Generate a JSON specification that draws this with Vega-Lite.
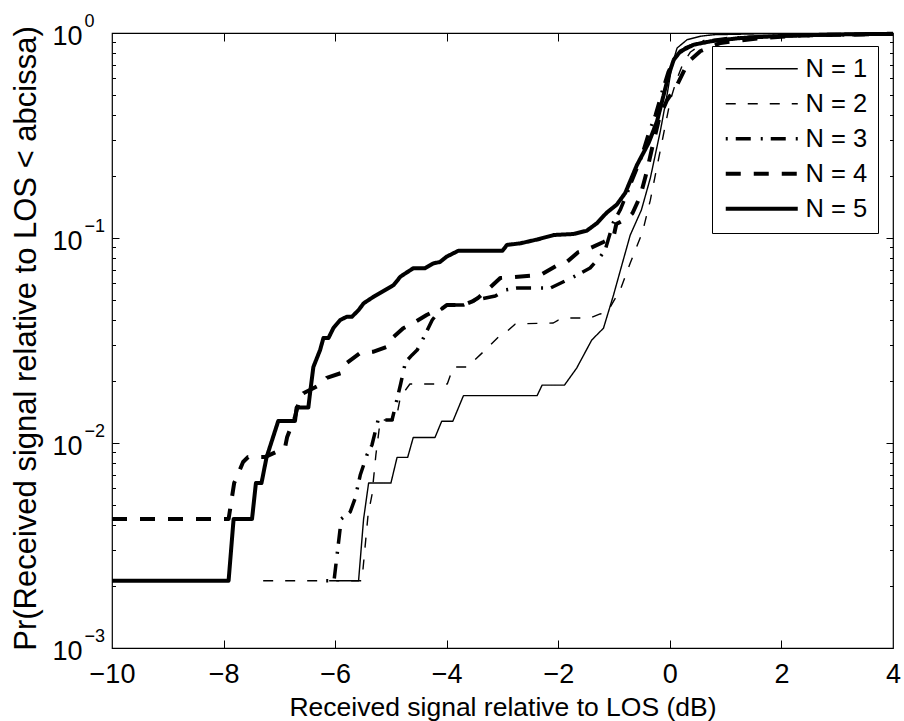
{
  "$schema": "https://vega.github.io/schema/vega-lite/v6.json",
  "width": 781,
  "height": 615,
  "autosize": {"type": "none"},
  "padding": {"left": 112, "top": 33, "right": 11, "bottom": 73},
  "background": "white",
  "config": {
    "font": "Liberation Sans",
    "view": {"stroke": "black", "strokeWidth": 1.2},
    "legend": {
      "orient": "none", "legendX": 600, "legendY": 13, "direction": "vertical",
      "strokeColor": "black", "fillColor": "white", "padding": 10, "rowPadding": 8,
      "symbolType": "M-4,0H4", "symbolSize": 324, "symbolOffset": 27, "symbolStrokeColor": "black",
      "labelFontSize": 25.5, "labelColor": "black", "labelOffset": 31, "labelFont": "Liberation Sans",
      "cornerRadius": 0, "symbolOpacity": 1
    }
  },
  "data": {"values": [
    {"N":"N = 1","x":-5.98,"p":0.00213},{"N":"N = 1","x":-5.58,"p":0.00213},{"N":"N = 1","x":-5.49,"p":0.00426},{"N":"N = 1","x":-5.40,"p":0.00638},{"N":"N = 1","x":-5.00,"p":0.00638},{"N":"N = 1","x":-4.89,"p":0.00851},{"N":"N = 1","x":-4.70,"p":0.00851},{"N":"N = 1","x":-4.60,"p":0.01064},{"N":"N = 1","x":-4.21,"p":0.01064},{"N":"N = 1","x":-4.09,"p":0.01277},{"N":"N = 1","x":-3.89,"p":0.01277},{"N":"N = 1","x":-3.70,"p":0.01702},{"N":"N = 1","x":-2.38,"p":0.01702},{"N":"N = 1","x":-2.29,"p":0.01915},{"N":"N = 1","x":-1.89,"p":0.01915},{"N":"N = 1","x":-1.67,"p":0.0232},{"N":"N = 1","x":-1.40,"p":0.0318},{"N":"N = 1","x":-1.19,"p":0.0363},{"N":"N = 1","x":-1.01,"p":0.0527},{"N":"N = 1","x":-0.86,"p":0.0739},{"N":"N = 1","x":-0.71,"p":0.1034},{"N":"N = 1","x":-0.51,"p":0.137},{"N":"N = 1","x":-0.35,"p":0.196},{"N":"N = 1","x":-0.17,"p":0.333},{"N":"N = 1","x":-0.05,"p":0.50},{"N":"N = 1","x":0.04,"p":0.70},{"N":"N = 1","x":0.13,"p":0.845},{"N":"N = 1","x":0.31,"p":0.928},{"N":"N = 1","x":0.55,"p":0.964},{"N":"N = 1","x":0.78,"p":0.981},{"N":"N = 1","x":1.62,"p":0.991},{"N":"N = 1","x":4.0,"p":0.995},
    {"N":"N = 2","x":-7.29,"p":0.00213},{"N":"N = 2","x":-5.52,"p":0.00213},{"N":"N = 2","x":-5.41,"p":0.00446},{"N":"N = 2","x":-5.34,"p":0.00558},{"N":"N = 2","x":-5.27,"p":0.00874},{"N":"N = 2","x":-5.19,"p":0.01295},{"N":"N = 2","x":-4.91,"p":0.01295},{"N":"N = 2","x":-4.83,"p":0.01677},{"N":"N = 2","x":-4.66,"p":0.0194},{"N":"N = 2","x":-3.99,"p":0.0194},{"N":"N = 2","x":-3.88,"p":0.0235},{"N":"N = 2","x":-3.63,"p":0.0235},{"N":"N = 2","x":-3.31,"p":0.0284},{"N":"N = 2","x":-3.04,"p":0.0336},{"N":"N = 2","x":-2.95,"p":0.0344},{"N":"N = 2","x":-2.77,"p":0.0381},{"N":"N = 2","x":-2.09,"p":0.0385},{"N":"N = 2","x":-2.00,"p":0.0398},{"N":"N = 2","x":-1.84,"p":0.0407},{"N":"N = 2","x":-1.43,"p":0.0407},{"N":"N = 2","x":-1.25,"p":0.0426},{"N":"N = 2","x":-1.12,"p":0.0436},{"N":"N = 2","x":-0.89,"p":0.0558},{"N":"N = 2","x":-0.71,"p":0.0755},{"N":"N = 2","x":-0.49,"p":0.107},{"N":"N = 2","x":-0.35,"p":0.153},{"N":"N = 2","x":-0.26,"p":0.203},{"N":"N = 2","x":-0.17,"p":0.269},{"N":"N = 2","x":-0.08,"p":0.356},{"N":"N = 2","x":0.01,"p":0.471},{"N":"N = 2","x":0.12,"p":0.590},{"N":"N = 2","x":0.24,"p":0.714},{"N":"N = 2","x":0.37,"p":0.808},{"N":"N = 2","x":0.55,"p":0.874},{"N":"N = 2","x":0.82,"p":0.924},{"N":"N = 2","x":1.35,"p":0.956},{"N":"N = 2","x":2.34,"p":0.978},{"N":"N = 2","x":4.0,"p":0.99},
    {"N":"N = 3","x":-6.16,"p":0.00213},{"N":"N = 3","x":-6.02,"p":0.00213},{"N":"N = 3","x":-5.89,"p":0.00426},{"N":"N = 3","x":-5.73,"p":0.00461},{"N":"N = 3","x":-5.64,"p":0.00539},{"N":"N = 3","x":-5.55,"p":0.00698},{"N":"N = 3","x":-5.43,"p":0.00874},{"N":"N = 3","x":-5.34,"p":0.00978},{"N":"N = 3","x":-5.23,"p":0.01295},{"N":"N = 3","x":-4.98,"p":0.01295},{"N":"N = 3","x":-4.83,"p":0.01918},{"N":"N = 3","x":-4.74,"p":0.0248},{"N":"N = 3","x":-4.62,"p":0.0269},{"N":"N = 3","x":-4.53,"p":0.0284},{"N":"N = 3","x":-4.39,"p":0.0336},{"N":"N = 3","x":-4.26,"p":0.0398},{"N":"N = 3","x":-4.12,"p":0.0445},{"N":"N = 3","x":-3.99,"p":0.0471},{"N":"N = 3","x":-3.70,"p":0.0471},{"N":"N = 3","x":-3.49,"p":0.0498},{"N":"N = 3","x":-3.13,"p":0.0521},{"N":"N = 3","x":-2.95,"p":0.0558},{"N":"N = 3","x":-2.74,"p":0.0570},{"N":"N = 3","x":-2.14,"p":0.0570},{"N":"N = 3","x":-1.84,"p":0.0624},{"N":"N = 3","x":-1.66,"p":0.0660},{"N":"N = 3","x":-1.43,"p":0.0714},{"N":"N = 3","x":-1.25,"p":0.0808},{"N":"N = 3","x":-1.16,"p":0.0874},{"N":"N = 3","x":-1.01,"p":0.1197},{"N":"N = 3","x":-0.89,"p":0.137},{"N":"N = 3","x":-0.71,"p":0.181},{"N":"N = 3","x":-0.53,"p":0.240},{"N":"N = 3","x":-0.39,"p":0.318},{"N":"N = 3","x":-0.26,"p":0.398},{"N":"N = 3","x":-0.14,"p":0.516},{"N":"N = 3","x":-0.03,"p":0.645},{"N":"N = 3","x":0.10,"p":0.764},{"N":"N = 3","x":0.28,"p":0.845},{"N":"N = 3","x":0.55,"p":0.904},{"N":"N = 3","x":1.09,"p":0.945},{"N":"N = 3","x":1.98,"p":0.967},{"N":"N = 3","x":4.0,"p":0.99},
    {"N":"N = 4","x":-10,"p":0.00426},{"N":"N = 4","x":-7.91,"p":0.00426},{"N":"N = 4","x":-7.81,"p":0.00638},{"N":"N = 4","x":-7.65,"p":0.00808},{"N":"N = 4","x":-7.56,"p":0.00854},{"N":"N = 4","x":-7.26,"p":0.00854},{"N":"N = 4","x":-6.90,"p":0.00945},{"N":"N = 4","x":-6.86,"p":0.0107},{"N":"N = 4","x":-6.72,"p":0.0134},{"N":"N = 4","x":-6.63,"p":0.0168},{"N":"N = 4","x":-6.57,"p":0.0175},{"N":"N = 4","x":-6.27,"p":0.0192},{"N":"N = 4","x":-6.15,"p":0.0208},{"N":"N = 4","x":-5.88,"p":0.0220},{"N":"N = 4","x":-5.79,"p":0.0246},{"N":"N = 4","x":-5.55,"p":0.0275},{"N":"N = 4","x":-5.31,"p":0.0279},{"N":"N = 4","x":-5.07,"p":0.0295},{"N":"N = 4","x":-4.95,"p":0.0330},{"N":"N = 4","x":-4.78,"p":0.0363},{"N":"N = 4","x":-4.60,"p":0.0384},{"N":"N = 4","x":-4.36,"p":0.0421},{"N":"N = 4","x":-4.24,"p":0.0437},{"N":"N = 4","x":-4.12,"p":0.0445},{"N":"N = 4","x":-4.00,"p":0.0471},{"N":"N = 4","x":-3.70,"p":0.0471},{"N":"N = 4","x":-3.55,"p":0.0489},{"N":"N = 4","x":-3.44,"p":0.0510},{"N":"N = 4","x":-3.27,"p":0.0558},{"N":"N = 4","x":-3.04,"p":0.0638},{"N":"N = 4","x":-2.32,"p":0.0660},{"N":"N = 4","x":-2.04,"p":0.0730},{"N":"N = 4","x":-1.87,"p":0.0755},{"N":"N = 4","x":-1.64,"p":0.0854},{"N":"N = 4","x":-1.46,"p":0.0884},{"N":"N = 4","x":-1.19,"p":0.0956},{"N":"N = 4","x":-1.01,"p":0.1011},{"N":"N = 4","x":-0.96,"p":0.117},{"N":"N = 4","x":-0.76,"p":0.125},{"N":"N = 4","x":-0.67,"p":0.132},{"N":"N = 4","x":-0.53,"p":0.160},{"N":"N = 4","x":-0.42,"p":0.2075},{"N":"N = 4","x":-0.31,"p":0.281},{"N":"N = 4","x":-0.19,"p":0.385},{"N":"N = 4","x":-0.05,"p":0.471},{"N":"N = 4","x":0.12,"p":0.551},{"N":"N = 4","x":0.33,"p":0.722},{"N":"N = 4","x":0.55,"p":0.817},{"N":"N = 4","x":0.91,"p":0.894},{"N":"N = 4","x":1.62,"p":0.945},{"N":"N = 4","x":2.34,"p":0.972},{"N":"N = 4","x":4.0,"p":0.99},
    {"N":"N = 5","x":-10,"p":0.00213},{"N":"N = 5","x":-7.91,"p":0.00213},{"N":"N = 5","x":-7.82,"p":0.00426},{"N":"N = 5","x":-7.49,"p":0.00426},{"N":"N = 5","x":-7.42,"p":0.00638},{"N":"N = 5","x":-7.32,"p":0.00638},{"N":"N = 5","x":-7.23,"p":0.0085},{"N":"N = 5","x":-7.02,"p":0.0128},{"N":"N = 5","x":-6.72,"p":0.0128},{"N":"N = 5","x":-6.69,"p":0.0149},{"N":"N = 5","x":-6.48,"p":0.0149},{"N":"N = 5","x":-6.45,"p":0.0175},{"N":"N = 5","x":-6.39,"p":0.0235},{"N":"N = 5","x":-6.27,"p":0.0284},{"N":"N = 5","x":-6.21,"p":0.0325},{"N":"N = 5","x":-6.12,"p":0.0325},{"N":"N = 5","x":-6.03,"p":0.0364},{"N":"N = 5","x":-5.91,"p":0.0398},{"N":"N = 5","x":-5.79,"p":0.0413},{"N":"N = 5","x":-5.70,"p":0.0413},{"N":"N = 5","x":-5.58,"p":0.0445},{"N":"N = 5","x":-5.49,"p":0.0480},{"N":"N = 5","x":-5.31,"p":0.0517},{"N":"N = 5","x":-4.95,"p":0.0590},{"N":"N = 5","x":-4.83,"p":0.0648},{"N":"N = 5","x":-4.60,"p":0.0712},{"N":"N = 5","x":-4.39,"p":0.0712},{"N":"N = 5","x":-4.24,"p":0.0752},{"N":"N = 5","x":-4.12,"p":0.0764},{"N":"N = 5","x":-4.00,"p":0.0811},{"N":"N = 5","x":-3.79,"p":0.0867},{"N":"N = 5","x":-3.00,"p":0.0867},{"N":"N = 5","x":-2.92,"p":0.0925},{"N":"N = 5","x":-2.68,"p":0.0942},{"N":"N = 5","x":-2.38,"p":0.0983},{"N":"N = 5","x":-2.08,"p":0.1034},{"N":"N = 5","x":-1.73,"p":0.1046},{"N":"N = 5","x":-1.49,"p":0.1085},{"N":"N = 5","x":-1.31,"p":0.1179},{"N":"N = 5","x":-1.13,"p":0.1331},{"N":"N = 5","x":-0.95,"p":0.1457},{"N":"N = 5","x":-0.80,"p":0.1658},{"N":"N = 5","x":-0.59,"p":0.227},{"N":"N = 5","x":-0.38,"p":0.291},{"N":"N = 5","x":-0.23,"p":0.371},{"N":"N = 5","x":-0.11,"p":0.500},{"N":"N = 5","x":-0.02,"p":0.626},{"N":"N = 5","x":0.07,"p":0.741},{"N":"N = 5","x":0.19,"p":0.814},{"N":"N = 5","x":0.43,"p":0.877},{"N":"N = 5","x":0.73,"p":0.911},{"N":"N = 5","x":1.27,"p":0.945},{"N":"N = 5","x":1.98,"p":0.967},{"N":"N = 5","x":2.88,"p":0.983},{"N":"N = 5","x":4.0,"p":0.991}
  ]},
  "resolve": {"axis": {"x": "independent", "y": "independent"}},
  "layer": [
    {
      "mark": {"type": "line", "color": "black", "strokeCap": "butt", "strokeJoin": "round"},
      "encoding": {
        "x": {"field": "x", "type": "quantitative", "scale": {"domain": [-10, 4], "nice": false, "zero": false},
          "axis": {"orient": "bottom", "values": [-10, -8, -6, -4, -2, 0, 2, 4], "format": "d", "ticks": false, "domain": false, "grid": false,
            "labelFontSize": 27, "labelColor": "black", "labelPadding": 13, "labelFlush": false, "labelOverlap": false,
            "title": "Received signal relative to LOS (dB)", "titleFontSize": 26.5, "titleFontWeight": "normal", "titleColor": "black",
            "titleY": 67, "titleBaseline": "alphabetic"}},
        "y": {"field": "p", "type": "quantitative", "scale": {"type": "log", "domain": [0.001, 1], "nice": false},
          "axis": {"orient": "left", "values": [0.001, 0.01, 0.1, 1], "labelExpr": "'10'", "ticks": false, "domain": false, "grid": false,
            "labelFontSize": 27, "labelColor": "black", "labelPadding": 30, "labelAlign": "right", "labelBaseline": "middle", "labelOffset": 3,
            "labelOverlap": false, "labelFlush": false,
            "title": "Pr(Received signal relative to LOS < abcissa)", "titleFontSize": 31, "titleFontWeight": "normal", "titleColor": "black",
            "titleAngle": -90, "titleX": -77, "titleY": 305, "titleAlign": "center", "titleBaseline": "alphabetic"}},
        "strokeDash": {"field": "N", "type": "nominal",
          "scale": {"domain": ["N = 1", "N = 2", "N = 3", "N = 4", "N = 5"], "range": [[1, 0], [10, 12], [2, 8, 15, 10], [15, 13], [1, 0]]},
          "legend": {"title": null}},
        "strokeWidth": {"field": "N", "type": "nominal",
          "scale": {"type": "ordinal", "domain": ["N = 1", "N = 2", "N = 3", "N = 4", "N = 5"], "range": [1.4, 1.4, 3.5, 4, 4]},
          "legend": {"title": null}}
      }
    },
    {
      "mark": {"type": "point", "opacity": 0},
      "encoding": {
        "x": {"field": "x", "type": "quantitative", "scale": {"domain": [-10, 4], "nice": false, "zero": false},
          "axis": {"orient": "bottom", "values": [-8, -6, -4, -2, 0, 2], "labels": false, "domain": false, "grid": false, "ticks": true, "tickSize": -8, "tickColor": "black", "tickWidth": 1, "title": null}},
        "y": {"field": "p", "type": "quantitative", "scale": {"type": "log", "domain": [0.001, 1], "nice": false},
          "axis": {"orient": "left", "values": [0.001, 0.01, 0.1, 1],
            "labelExpr": "datum.value > 0.5 ? '0' : datum.value > 0.05 ? '−1' : datum.value > 0.005 ? '−2' : '−3'",
            "ticks": false, "domain": false, "grid": false, "labelFontSize": 18, "labelColor": "black", "labelPadding": 28,
            "labelAlign": "left", "labelBaseline": "middle", "labelOffset": -12, "labelOverlap": false, "labelFlush": false, "title": null}}
      }
    },
    {
      "mark": {"type": "point", "opacity": 0},
      "encoding": {
        "x": {"field": "x", "type": "quantitative", "scale": {"domain": [-10, 4], "nice": false, "zero": false},
          "axis": {"orient": "top", "values": [-8, -6, -4, -2, 0, 2], "labels": false, "domain": false, "grid": false, "ticks": true, "tickSize": -8, "tickColor": "black", "tickWidth": 1, "title": null}},
        "y": {"field": "p", "type": "quantitative", "scale": {"type": "log", "domain": [0.001, 1], "nice": false},
          "axis": {"orient": "left", "values": [0.01, 0.1], "labels": false, "domain": false, "grid": false, "ticks": true, "tickSize": -7, "tickColor": "black", "tickWidth": 1, "title": null}}
      }
    },
    {
      "mark": {"type": "point", "opacity": 0},
      "encoding": {
        "x": {"field": "x", "type": "quantitative", "scale": {"domain": [-10, 4], "nice": false, "zero": false}, "axis": null},
        "y": {"field": "p", "type": "quantitative", "scale": {"type": "log", "domain": [0.001, 1], "nice": false},
          "axis": {"orient": "left", "values": [0.002, 0.003, 0.004, 0.005, 0.006, 0.007, 0.008, 0.009, 0.02, 0.03, 0.04, 0.05, 0.06, 0.07, 0.08, 0.09, 0.2, 0.3, 0.4, 0.5, 0.6, 0.7, 0.8, 0.9],
            "labels": false, "domain": false, "grid": false, "ticks": true, "tickSize": -3.5, "tickColor": "black", "tickWidth": 1, "title": null}}
      }
    },
    {
      "mark": {"type": "point", "opacity": 0},
      "encoding": {
        "x": {"field": "x", "type": "quantitative", "scale": {"domain": [-10, 4], "nice": false, "zero": false}, "axis": null},
        "y": {"field": "p", "type": "quantitative", "scale": {"type": "log", "domain": [0.001, 1], "nice": false},
          "axis": {"orient": "right", "values": [0.01, 0.1], "labels": false, "domain": false, "grid": false, "ticks": true, "tickSize": -7, "tickColor": "black", "tickWidth": 1, "title": null}}
      }
    },
    {
      "mark": {"type": "point", "opacity": 0},
      "encoding": {
        "x": {"field": "x", "type": "quantitative", "scale": {"domain": [-10, 4], "nice": false, "zero": false}, "axis": null},
        "y": {"field": "p", "type": "quantitative", "scale": {"type": "log", "domain": [0.001, 1], "nice": false},
          "axis": {"orient": "right", "values": [0.002, 0.003, 0.004, 0.005, 0.006, 0.007, 0.008, 0.009, 0.02, 0.03, 0.04, 0.05, 0.06, 0.07, 0.08, 0.09, 0.2, 0.3, 0.4, 0.5, 0.6, 0.7, 0.8, 0.9],
            "labels": false, "domain": false, "grid": false, "ticks": true, "tickSize": -3.5, "tickColor": "black", "tickWidth": 1, "title": null}}
      }
    }
  ]
}
